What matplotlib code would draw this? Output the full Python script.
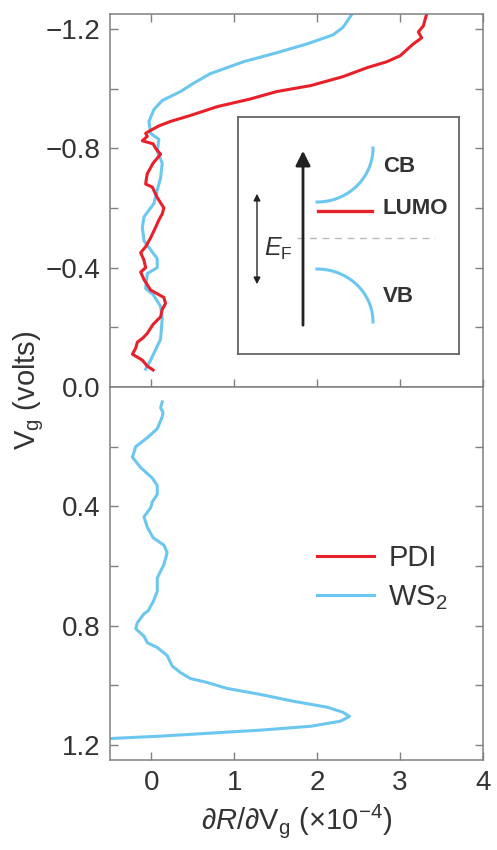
import matplotlib
matplotlib.use('Agg')
import matplotlib.pyplot as plt
import numpy as np

plt.rcParams['font.family'] = ['Liberation Sans', 'DejaVu Sans']
plt.rcParams['mathtext.fontset'] = 'custom'
plt.rcParams['mathtext.rm'] = 'Liberation Sans'
plt.rcParams['mathtext.it'] = 'Liberation Sans:italic'
plt.rcParams['mathtext.bf'] = 'Liberation Sans:bold'

# data: (gate voltage, dR/dVg in 1e-4)
ws2_top_v = [-0.06, -0.09, -0.16, -0.23, -0.27, -0.31, -0.33, -0.38, -0.40, -0.43, -0.46, -0.49,
             -0.535, -0.57, -0.615, -0.66, -0.70, -0.75, -0.79, -0.83, -0.85, -0.89, -0.93, -0.96,
             -0.99, -1.02, -1.05, -1.09, -1.12, -1.15, -1.18, -1.205, -1.225, -1.25]
ws2_top_x = [-0.07, -0.01, 0.11, 0.13, 0.11, 0.02, -0.07, -0.05, 0.07, 0.07, -0.01, -0.09,
             -0.11, -0.09, 0.03, 0.07, 0.11, 0.13, 0.07, 0.09, -0.01, -0.03, 0.03, 0.13,
             0.35, 0.52, 0.71, 1.11, 1.51, 1.88, 2.19, 2.31, 2.36, 2.42]

pdi_v = [-0.057, -0.07, -0.09, -0.11, -0.13, -0.15, -0.165, -0.18, -0.21, -0.235, -0.26, -0.28,
         -0.30, -0.325, -0.36, -0.385, -0.40, -0.425, -0.45, -0.47, -0.50, -0.535, -0.56, -0.58,
         -0.60, -0.635, -0.67, -0.68, -0.70, -0.715, -0.75, -0.78, -0.80, -0.815, -0.825, -0.84,
         -0.85, -0.86, -0.875, -0.89, -0.91, -0.94, -0.965, -0.99, -1.01, -1.04, -1.07, -1.09,
         -1.11, -1.15, -1.17, -1.19, -1.21, -1.23, -1.25]
pdi_x = [0.02, -0.05, -0.11, -0.23, -0.19, -0.17, -0.10, -0.05, 0.02, 0.11, 0.13, 0.17,
         0.15, -0.01, -0.09, -0.13, -0.07, -0.09, -0.13, -0.07, -0.01, 0.05, 0.09, 0.13,
         0.15, 0.07, 0.01, -0.07, -0.06, -0.05, 0.02, 0.11, 0.05, 0.02, -0.11, -0.05,
         -0.07, -0.01, 0.09, 0.23, 0.47, 0.80, 1.19, 1.51, 1.92, 2.31, 2.60, 2.84,
         3.00, 3.16, 3.26, 3.22, 3.28, 3.30, 3.32]

ws2_bot_v = [0.05, 0.07, 0.085, 0.10, 0.14, 0.17, 0.20, 0.235, 0.27, 0.305, 0.33, 0.36, 0.385,
             0.405, 0.435, 0.47, 0.505, 0.53, 0.555, 0.595, 0.64, 0.685, 0.72, 0.75, 0.76, 0.79,
             0.81, 0.835, 0.857, 0.873, 0.90, 0.935, 0.957, 0.977, 0.99, 1.01, 1.03, 1.053,
             1.073, 1.09, 1.104, 1.12, 1.137, 1.15, 1.16, 1.17, 1.178, 1.181]
ws2_bot_x = [0.13, 0.11, 0.14, 0.13, 0.07, -0.05, -0.19, -0.23, -0.13, 0.01, 0.07, 0.07, 0.01,
             -0.01, -0.09, -0.05, 0.02, 0.15, 0.19, 0.15, 0.07, 0.07, 0.02, -0.04, -0.09, -0.17,
             -0.19, -0.09, -0.05, 0.07, 0.19, 0.25, 0.35, 0.47, 0.67, 0.91, 1.31, 1.71,
             2.12, 2.31, 2.39, 2.28, 1.92, 1.31, 0.71, 0.11, -0.49, -0.6]

red = '#e8202a'
blue = '#6cc7f0'
grey = '#808080'
txt = '#333333'
fs = 20

fig = plt.figure(figsize=(4.97, 8.5), dpi=100)
W, H = 497, 850
ax1 = fig.add_axes([110 / W, (H - 387) / H, 373 / W, 373 / H])
ax2 = fig.add_axes([110 / W, (H - 760) / H, 373 / W, 373 / H])

ax1.plot(ws2_top_x, ws2_top_v, color=blue, lw=2.2, label='WS$_2$')
ax1.plot(pdi_x, pdi_v, color=red, lw=2.2, label='PDI')
ax2.plot(ws2_bot_x, ws2_bot_v, color=blue, lw=2.2)

ax1.set_ylim(0, -1.25)
ax2.set_ylim(1.25, 0)
for ax in (ax1, ax2):
    ax.set_xlim(-0.5, 4)
    ax.set_xticks([0, 1, 2, 3, 4])
    for s in ax.spines.values():
        s.set_color(grey)
        s.set_linewidth(1.1)
    ax.tick_params(which='both', direction='in', length=5.5, width=1, color=grey,
                   labelsize=fs, labelcolor=txt, left=True, right=True, pad=7)

ax1.set_yticks([-1.2, -0.8, -0.4, 0.0])
ax1.set_yticklabels(['\u22121.2', '\u22120.8', '\u22120.4', '0.0'])
ax1.set_yticks([-1.0, -0.6, -0.2], minor=True)
ax1.tick_params(axis='x', top=True, bottom=True, labelbottom=False)

ax2.set_yticks([0.4, 0.8, 1.2])
ax2.set_yticklabels(['0.4', '0.8', '1.2'])
ax2.set_yticks([0.2, 0.6, 1.0], minor=True)
ax2.tick_params(axis='x', top=False, bottom=True)
ax2.set_xlabel(r'$\partial R/\partial$V$_\mathrm{g}$ (×10$^{-4}$)', fontsize=21, color=txt, labelpad=5)

fig.text(29 / W, (H - 390) / H, r'V$_\mathrm{g}$ (volts)', rotation=90, ha='center', va='center',
         fontsize=21, color=txt)

h = ax1.get_legend_handles_labels()[0]
ax2.legend([h[1], h[0]], ['PDI', 'WS$_2$'], loc='center left', bbox_to_anchor=(0.555, 0.488),
           frameon=False, fontsize=21, handlelength=1.95, handletextpad=0.5, labelspacing=0.4,
           borderpad=0, borderaxespad=0, labelcolor=txt)

# inset: band diagram, coordinates in pixels of the inset box
ins = fig.add_axes([238 / W, (H - 354) / H, 221 / W, 237 / H])
ins.set_xlim(0, 221)
ins.set_ylim(237, 0)
ins.set_xticks([])
ins.set_yticks([])
for s in ins.spines.values():
    s.set_color('#666666')
    s.set_linewidth(1.3)

t = np.linspace(0, np.pi / 2, 40)
ins.plot(79 + 56 * np.sin(t), 31 + 54 * np.cos(t), color=blue, lw=2.2)   # CB
ins.plot(79 + 56 * np.sin(t), 205 - 53 * np.cos(t), color=blue, lw=2.2)  # VB
ins.plot([80, 134], [94, 94], color=red, lw=2.4)                          # LUMO
ins.plot([59, 197], [121, 121], color='#bbbbbb', lw=1, dashes=(5, 4))
ins.annotate('', xy=(65, 31), xytext=(65, 211),
             arrowprops=dict(arrowstyle='-|>', color='#222222', lw=2, mutation_scale=22))
ins.annotate('', xy=(19, 74), xytext=(19, 170),
             arrowprops=dict(arrowstyle='<|-|>', color='#222222', lw=1, mutation_scale=10))
ins.text(40, 132, r'$E_\mathrm{F}$', fontsize=18, color=txt, ha='center', va='center')
ins.text(145, 50, 'CB', fontsize=16, fontweight='bold', color=txt, va='center')
ins.text(145, 92, 'LUMO', fontsize=16, fontweight='bold', color=txt, va='center')
ins.text(145, 179, 'VB', fontsize=16, fontweight='bold', color=txt, va='center')

fig.savefig('out.png', dpi=100)
